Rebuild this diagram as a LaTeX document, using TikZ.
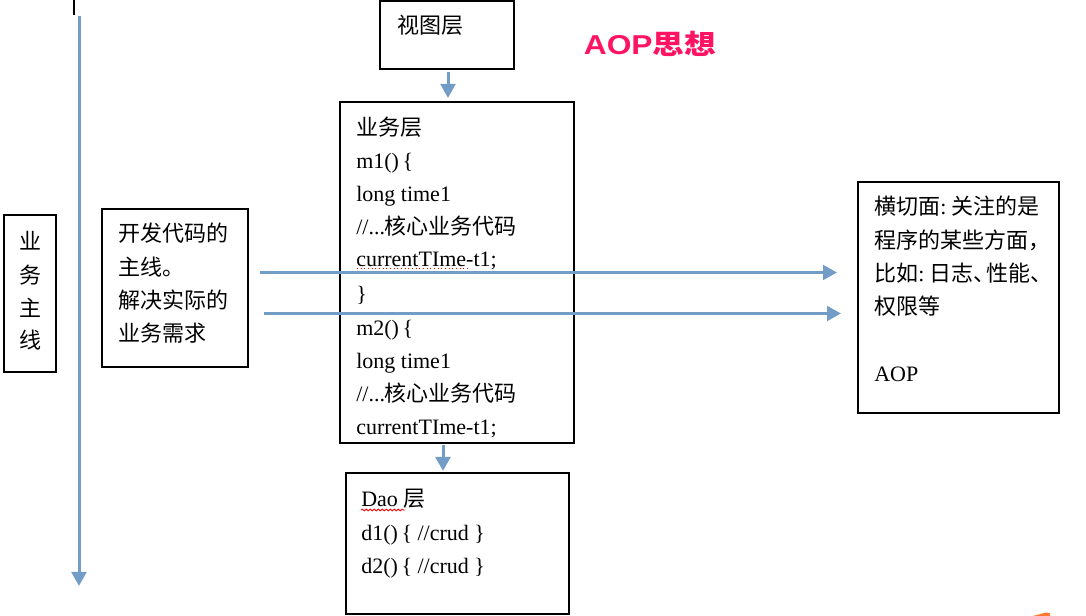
\documentclass[tikz,border=0pt]{standalone}
\usepackage{fontspec}
\setmainfont{Liberation Serif}
\newfontfamily\cjk{Noto Sans CJK SC}
\newfontfamily\sansb{Liberation Sans}
\usetikzlibrary{arrows.meta,fit,decorations.pathmorphing}
\definecolor{arrblue}{RGB}{114,157,199}
\definecolor{aoppink}{RGB}{255,20,100}
\definecolor{sqorange}{RGB}{255,120,50}
\newcommand{\zh}[1]{{\cjk #1}}
\newcommand{\hp}[1]{\makebox[0.55em][l]{\cjk #1}}
\begin{document}
\begin{tikzpicture}[x=0.75pt,y=-0.75pt,
  box/.style={draw=black,line width=1.5pt,inner sep=0pt},
  txt/.style={anchor=base west,inner sep=0pt,font=\fontsize{16.5}{20}\selectfont},
  ctxt/.style={anchor=base,inner sep=0pt,font=\fontsize{16.5}{20}\selectfont},
  arr/.style={draw=arrblue,line width=2.25pt,-{Triangle[width=11pt,length=10.5pt]}},
  title/.style={inner sep=0pt,font=\sansb\bfseries\fontsize{19.5}{22}\selectfont}]
\useasboundingbox[fill=white] (0,0) rectangle (1086,616);

% boxes
\node[box,fit={(4,215) (56,372)}] (main) {};
\node[box,fit={(102,209) (248,367)}] (dev) {};
\node[box,fit={(380,1) (514,69)}] (view) {};
\node[box,fit={(340,102) (574,443)}] (biz) {};
\node[box,fit={(346,473) (569,614)}] (dao) {};
\node[box,fit={(858,182) (1059,413)}] (aop) {};

% texts
\node[ctxt] (m1) at (31,250) {\zh{业}};
\node[ctxt] (m2) at (31,284) {\zh{务}};
\node[ctxt] (m3) at (31,317) {\zh{主}};
\node[ctxt] (m4) at (31,349) {\zh{线}};

\node[txt] (d1) at (118,242) {\zh{开发代码的}};
\node[txt] (d2) at (118,276) {\zh{主线。}};
\node[txt] (d3) at (118,309) {\zh{解决实际的}};
\node[txt] (d4) at (118,342) {\zh{业务需求}};

\node[txt] (v1) at (397,34) {\zh{视图层}};

\node[txt] (b1) at (356,136) {\zh{业务层}};
\node[txt] (b2) at (356,169) {m1()\,\{};
\node[txt] (b3) at (356,202) {long time1};
\node[txt] (b4) at (356,235) {//...\zh{核心业务代码}};
\node[txt] (b5) at (356,267) {currentTIme-t1;};
\node[txt] (b6) at (356,302) {\}};
\node[txt] (b7) at (356,336) {m2()\,\{};
\node[txt] (b8) at (356,369) {long time1};
\node[txt] (b9) at (356,402) {//...\zh{核心业务代码}};
\node[txt] (b10) at (356,435) {currentTIme-t1;};

\node[txt] (o1) at (361,507) {Dao \zh{层}};
\node[txt] (o2) at (361,541) {d1()\,\{ //crud \}};
\node[txt] (o3) at (361,574) {d2()\,\{ //crud \}};

\node[txt] (a1) at (874,215) {\zh{横切面}:\hspace{0.25em}\zh{关注的是}};
\node[txt] (a2) at (874,249) {\zh{程序的某些方面}\hp{，}};
\node[txt] (a3) at (874,282) {\zh{比如}:\hspace{0.25em}\zh{日志}\hp{、}\zh{性能}\hp{、}};
\node[txt] (a4) at (874,315) {\zh{权限等}};
\node[txt] (a5) at (874,382) {AOP};

% spell-check underlines
\draw[red,line width=0.75pt,dotted] (b5.base west) ++(1,2) -- ++(112,0);
\draw[red,line width=0.6pt,decorate,decoration={snake,amplitude=0.7pt,segment length=3pt}] (o1.base west) ++(0,3) -- ++(44,0);

% title
\node[title,text=aoppink] (title) at (650,44) {\scalebox{1.22}[1.05]{AOP\zh{思想}}};

% coordinates
\coordinate (mark0) at (74,0);
\coordinate (mark1) at (74,15);
\coordinate (ltop) at (79,16);
\coordinate (lbot) at (79,586);
\coordinate (xv) at (448,0);
\coordinate (xb) at (443,0);
\coordinate (h1) at (0,272.5);
\coordinate (h2) at (0,313.5);

\draw[line width=2pt] (mark0) -- (mark1);
\draw[arr] (ltop) -- (lbot);
\draw[arr,shorten <=1.5pt,shorten >=2.25pt] (view.south -| xv) -- (biz.north -| xv);
\draw[arr,shorten <=0.75pt,shorten >=0.75pt] (biz.south -| xb) -- (dao.north -| xb);
\draw[arr,shorten <=8.25pt,shorten >=15pt] (dev.east |- h1) -- (aop.west |- h1);
\draw[arr,shorten <=11.25pt,shorten >=12pt] (dev.east |- h2) -- (aop.west |- h2);

% orange fragment at corner
\fill[sqorange] (1033,616) -- (1046,612.5) -- (1050,613.5) -- (1050,616) -- cycle;
\end{tikzpicture}
\end{document}
